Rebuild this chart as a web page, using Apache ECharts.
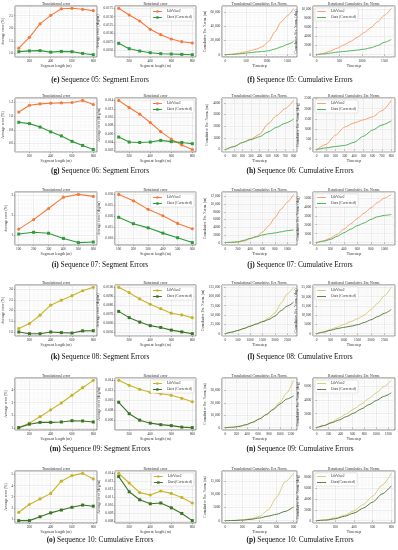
<!DOCTYPE html>
<html><head><meta charset="utf-8">
<script src="https://cdn.jsdelivr.net/npm/echarts@6/dist/echarts.min.js"></script>
<style>html,body{margin:0;padding:0;background:#fff}#c{width:398px;height:550px}</style>
</head><body><div id="c"></div>
<script>
// ---------- DATA ----------
const segLen8 = [100,200,300,400,500,600,700,800];
const segLen6 = [100,200,300,400,500,600];
const seriesNames = ['LibViso2','Ours (Corrected)'];
const seriesNames10 = ['LibViso2','Ours(Corrected)'];

// Sequence 05
const s05TransLib  = [1.21,1.64,2.17,2.51,2.77,2.79,2.75,2.70];
const s05TransOurs = [1.07,1.10,1.11,1.05,1.08,1.07,1.00,0.95];
const s05RotLib    = [0.0175,0.0155,0.0137,0.0112,0.0096,0.0083,0.0075,0.0071];
const s05RotOurs   = [0.0070,0.0054,0.0047,0.0042,0.0039,0.0038,0.0037,0.0036];
const t05          = [0,150,300,450,600,750,900,1050,1200,1350,1500,1650];
const c05TransLib  = [0,500,1800,3600,5500,8000,11500,19000,32500,46500,55000,65500];
const c05TransOurs = [0,400,1000,1800,2800,3800,4500,5500,8000,11000,14500,18500];
const c05RotLib    = [0,300,800,1400,2100,2900,3800,4800,5900,7200,8600,10100];
const c05RotOurs   = [0,150,350,550,700,850,1000,1200,1500,2000,2700,3300];

// Sequence 06
const s06TransLib  = [1.06,1.16,1.18,1.19,1.195,1.20,1.23,1.17];
const s06TransOurs = [0.91,0.89,0.84,0.77,0.71,0.63,0.57,0.51];
const s06RotLib    = [0.0140,0.0123,0.0107,0.0087,0.0065,0.0047,0.0033,0.0022];
const s06RotOurs   = [0.0052,0.0040,0.0039,0.0040,0.0044,0.0041,0.0039,0.0036];
const t06          = [0,100,200,300,400,500,600,700,800];
const c06TransLib  = [0,250,600,900,1300,2200,2900,3500,4200];
const c06TransOurs = [0,250,600,850,1100,1500,1900,2250,2600];
const c06RotLib    = [0,250,700,1100,1300,1450,1600,1900,2400];
const c06RotOurs   = [0,80,150,200,350,650,950,1200,1400];

// Sequence 07
const s07TransLib  = [1.30,1.78,2.34,2.91,3.05,2.95];
const s07TransOurs = [1.05,1.14,1.09,0.83,0.62,0.65];
const s07RotLib    = [0.0300,0.0271,0.0232,0.0203,0.0168,0.0144];
const s07RotOurs   = [0.0196,0.0167,0.0148,0.0124,0.0103,0.0081];
const t07          = [0,100,200,300,400,500,600,700,800,900,1000,1100];
const c07TransLib  = [0,60,150,400,1000,1600,2750,4400,6500,8700,10500,12500];
const c07TransOurs = [0,80,200,600,1100,1500,2000,2300,2500,2800,3100,3300];
const c07RotLib    = [0,200,500,900,1500,2100,2700,3300,3900,4500,5000,5400];
const c07RotOurs   = [0,150,350,700,1100,1500,1900,2200,2600,2900,3050,3150];

// Sequence 08
const s08TransLib  = [1.16,1.39,1.78,2.25,2.48,2.69,2.92,3.08];
const s08TransOurs = [1.00,0.92,0.92,1.00,0.97,0.95,1.05,1.06];
const s08RotLib    = [0.0100,0.0094,0.0087,0.0081,0.0076,0.0071,0.0069,0.0066];
const s08RotOurs   = [0.0073,0.0066,0.0061,0.0057,0.0055,0.0052,0.0050,0.0048];
const t08          = [0,250,500,750,1000,1250,1500,1750,2000,2250,2500,2750];
const c08TransLib  = [0,4000,8500,14000,20000,26000,33000,42000,56000,82000,107000,124000];
const c08TransOurs = [0,4000,8500,14000,20000,26000,32000,38000,47000,62000,74000,84000];
const c08RotLib    = [0,1000,2200,3500,5000,6500,8000,10000,13000,16500,20500,25000];
const c08RotOurs   = [0,800,1800,2700,3400,4000,4800,6000,7500,9200,11000,13000];

// Sequence 09
const s09TransLib  = [1.05,1.40,1.90,2.43,2.97,3.57,4.16,4.73];
const s09TransOurs = [1.05,1.32,1.46,1.46,1.49,1.59,1.57,1.49];
const s09RotLib    = [0.0140,0.0130,0.0122,0.0116,0.0113,0.0110,0.0104,0.0097];
const s09RotOurs   = [0.0096,0.0073,0.0060,0.0054,0.0051,0.0049,0.0046,0.0045];
const t09          = [0,125,250,375,500,625,750,875,1000,1125,1250];
const c09TransLib  = [0,300,1000,2300,4300,7000,10500,15000,20500,28000,38000];
const c09TransOurs = [0,300,1000,2300,4300,7000,10500,14500,19000,23000,25500];
const c09RotLib    = [0,300,800,1400,2000,2700,3400,4200,5000,5900,6800];
const c09RotOurs   = [0,300,700,1100,1600,2100,2700,3300,3900,4500,5000];

// Sequence 10
const s10TransLib  = [1.60,2.30,2.80,3.30,4.40,4.90,5.10,4.60];
const s10TransOurs = [0.85,0.85,1.20,1.55,1.80,2.05,2.25,2.15];
const s10RotLib    = [0.0140,0.0128,0.0116,0.0113,0.0118,0.0115,0.0110,0.0103];
const s10RotOurs   = [0.0136,0.0117,0.0107,0.0102,0.0103,0.0097,0.0090,0.0081];
const t10          = [0,100,200,300,400,500,600,700,800];
const c10TransLib  = [0,100,300,700,1600,4000,8800,14700,17900];
const c10TransOurs = [0,50,200,500,1000,1700,2400,3500,5200];
const c10RotLib    = [0,150,500,1000,1800,3000,4500,6500,8700];
const c10RotOurs   = [0,100,350,800,1400,2300,3400,4900,6400];

const captions = [
  ['(e)',' Sequence 05: Segment Errors'],['(f)',' Sequence 05: Cumulative Errors'],
  ['(g)',' Sequence 06: Segment Errors'],['(h)',' Sequence 06: Cumulative Errors'],
  ['(i)',' Sequence 07: Segment Errors'],['(j)',' Sequence 07: Cumulative Errors'],
  ['(k)',' Sequence 08: Segment Errors'],['(l)',' Sequence 08: Cumulative Errors'],
  ['(m)',' Sequence 09: Segment Errors'],['(n)',' Sequence 09: Cumulative Errors'],
  ['(o)',' Sequence 10: Cumulative Errors'],['(p)',' Sequence 10: Cumulative Errors']
];

// ---------- LAYOUT / STYLE ----------
const FONT = 'Liberation Serif';
const cols = [[15,82],[115,81],[222,75],[313,82]];
const rows = [[6,51],[98,54],[192,53],[285,51],[378,52],[471,52]];
const capY = [80,171,265,357,449,540];
const PAL = {
  A:{segLib:'#f7793a',segOurs:'#2e9a3a',cumLib:'#f8a46e',cumOurs:'#54b25a'},
  B:{segLib:'#c6b526',segOurs:'#3a7425',cumLib:'#d8ce7a',cumOurs:'#5b7f45'}
};

function seg(r,pal,tl,to,rl,ro,x,tStep,rStep,tDec,rDec,names){
  const xs = x.length===6?100:200;
  return [
    {r,c:0,kind:'seg',pal,title:'Translational error',xName:'Segment length (m)',yName:'Average error (%)',x,lib:tl,ours:to,xStep:xs,yStep:tStep,dec:tDec,names},
    {r,c:1,kind:'seg',pal,title:'Rotational error',xName:'Segment length (m)',yName:'Average error (deg/m)',x,lib:rl,ours:ro,xStep:xs,yStep:rStep,dec:rDec,legend:true,names}
  ];
}
function cum(r,pal,t,tl,to,rl,ro,xStep,tStep,rStep,names){
  return [
    {r,c:2,kind:'cum',pal,title:'Translational Cumulative Err. Norm.',xName:'Timestep',yName:'Cumulative Err. Norm. (m)',x:t,lib:tl,ours:to,xStep,yStep:tStep,dec:0,names},
    {r,c:3,kind:'cum',pal,title:'Rotational Cumulative Err. Norm.',xName:'Timestep',yName:'Cumulative Err. Norm. (deg)',x:t,lib:rl,ours:ro,xStep,yStep:rStep,dec:0,legend:true,names}
  ];
}
const panels = [].concat(
  seg(0,'A',s05TransLib,s05TransOurs,s05RotLib,s05RotOurs,segLen8,0.5,0.0025,1,4,seriesNames),
  cum(0,'A',t05,c05TransLib,c05TransOurs,c05RotLib,c05RotOurs,500,20000,2000,seriesNames),
  seg(1,'A',s06TransLib,s06TransOurs,s06RotLib,s06RotOurs,segLen8,0.2,0.002,1,3,seriesNames),
  cum(1,'A',t06,c06TransLib,c06TransOurs,c06RotLib,c06RotOurs,100,1000,500,seriesNames),
  seg(2,'A',s07TransLib,s07TransOurs,s07RotLib,s07RotOurs,segLen6,1,0.005,0,3,seriesNames),
  cum(2,'A',t07,c07TransLib,c07TransOurs,c07RotLib,c07RotOurs,200,2000,1000,seriesNames),
  seg(3,'B',s08TransLib,s08TransOurs,s08RotLib,s08RotOurs,segLen8,0.5,0.001,1,4,seriesNames),
  cum(3,'B',t08,c08TransLib,c08TransOurs,c08RotLib,c08RotOurs,500,25000,5000,seriesNames),
  seg(4,'B',s09TransLib,s09TransOurs,s09RotLib,s09RotOurs,segLen8,1,0.002,0,3,seriesNames),
  cum(4,'B',t09,c09TransLib,c09TransOurs,c09RotLib,c09RotOurs,200,10000,2000,seriesNames),
  seg(5,'B',s10TransLib,s10TransOurs,s10RotLib,s10RotOurs,segLen8,1,0.001,0,3,seriesNames10),
  cum(5,'B',t10,c10TransLib,c10TransOurs,c10RotLib,c10RotOurs,200,5000,2000,seriesNames10)
);

function fmt(v,dec){
  if(dec>0) return v.toFixed(dec);
  const r = Math.round(v);
  if(Math.abs(r)>=10000) return r.toLocaleString('en-US');
  return String(r);
}

const TF = 3.5;
const grid=[],xAxis=[],yAxis=[],series=[],legend=[],graphic=[];
const tickFont = {fontFamily:FONT,fontSize:TF,color:'#333'};
panels.forEach((p,i)=>{
  const [gl,gw]=cols[p.c], [gt,gh]=rows[p.r];
  grid.push({left:gl,top:gt,width:gw,height:gh,show:true,backgroundColor:'#fff',borderColor:'#555',borderWidth:0.8,containLabel:false});
  const x0=p.x[0], x1=p.x[p.x.length-1], xs=(x1-x0)*0.05;
  const all=p.lib.concat(p.ours);
  const y0=Math.min(...all), y1=Math.max(...all), ys=(y1-y0)*0.05;
  const col = PAL[p.pal];
  const maxLab = fmt(Math.floor((y1+ys)/p.yStep)*p.yStep,p.dec).length;
  xAxis.push({type:'value',gridIndex:i,min:x0-xs,max:x1+xs,minInterval:p.xStep,maxInterval:p.xStep,
    name:p.xName,nameLocation:'middle',nameGap:6.5,nameTextStyle:{fontFamily:FONT,fontSize:3.9,color:'#333'},
    axisLine:{show:false},axisTick:{show:true,length:1.2,lineStyle:{color:'#666',width:0.5}},
    axisLabel:Object.assign({margin:1.8,showMinLabel:false,showMaxLabel:false,formatter:v=>fmt(v,0)},tickFont),
    splitLine:{show:true,lineStyle:{color:'#dcdcdc',width:0.5}},
    minorTick:{show:false,splitNumber:5},minorSplitLine:{show:true,lineStyle:{color:'#eeeeee',width:0.4}}});
  yAxis.push({type:'value',gridIndex:i,min:y0-ys,max:y1+ys,minInterval:p.yStep,maxInterval:p.yStep,
    name:p.yName,nameLocation:'middle',nameGap:3.5+maxLab*1.7,nameRotate:90,
    nameTextStyle:{fontFamily:FONT,fontSize:3.8,color:'#333'},
    axisLine:{show:false},axisTick:{show:true,length:1.2,lineStyle:{color:'#666',width:0.5}},
    axisLabel:Object.assign({margin:1.8,showMinLabel:false,showMaxLabel:false,formatter:v=>fmt(v,p.dec)},tickFont),
    splitLine:{show:true,lineStyle:{color:'#dcdcdc',width:0.5}},
    minorTick:{show:false,splitNumber:5},minorSplitLine:{show:true,lineStyle:{color:'#eeeeee',width:0.4}}});
  const seg = p.kind==='seg';
  const cL = seg?col.segLib:col.cumLib, cO = seg?col.segOurs:col.cumOurs;
  series.push({type:'line',name:p.names[0],xAxisIndex:i,yAxisIndex:i,data:p.x.map((v,k)=>[v,p.lib[k]]),
    symbol:seg?'circle':'none',symbolSize:3.2,smooth:seg?false:0.25,smoothMonotone:'x',
    lineStyle:{color:cL,width:seg?1.1:1},itemStyle:{color:cL,borderWidth:0},silent:true,animation:false,z:3});
  series.push({type:'line',name:p.names[1],xAxisIndex:i,yAxisIndex:i,data:p.x.map((v,k)=>[v,p.ours[k]]),
    symbol:seg?'rect':'none',symbolSize:3,smooth:seg?false:0.25,smoothMonotone:'x',
    lineStyle:{color:cO,width:seg?1.1:1},itemStyle:{color:cO,borderWidth:0},silent:true,animation:false,z:3});
  if(p.legend){
    const pos = seg?{right:398-(gl+gw)+2,top:gt+2}:{left:gl+2,top:gt+2};
    const it = seg?
      [{name:p.names[0],itemStyle:{color:cL},lineStyle:{color:cL,width:1}},
       {name:p.names[1],itemStyle:{color:cO},lineStyle:{color:cO,width:1}}] :
      [{name:p.names[0],icon:'rect',itemStyle:{color:cL},lineStyle:{color:cL}},
       {name:p.names[1],icon:'rect',itemStyle:{color:cO},lineStyle:{color:cO}}];
    legend.push(Object.assign({orient:'vertical',selectedMode:false,itemWidth:9,itemHeight:seg?3:1,itemGap:2,padding:[1.5,2],
      backgroundColor:'#fff',borderColor:'#ccc',borderWidth:0.5,borderRadius:1,
      textStyle:{fontFamily:FONT,fontSize:3.7,color:'#333'},data:it},pos));
  }
  graphic.push({type:'text',x:gl+gw/2,y:gt-2.4,style:{text:p.title,font:'3.8px '+FONT,fill:'#333',textAlign:'center',textVerticalAlign:'middle'},silent:true});
});
captions.forEach((c,i)=>{
  const r=Math.floor(i/2), cx = i%2===0?100:300;
  graphic.push({type:'text',x:cx,y:capY[r],style:{text:'{b|'+c[0]+'}'+c[1],font:'7.4px '+FONT,fill:'#111',textAlign:'center',textVerticalAlign:'middle',
    rich:{b:{font:'bold 7.4px '+FONT,fill:'#111'}}},silent:true});
});

const chart = echarts.init(document.getElementById('c'),null,{renderer:'canvas'});
chart.setOption({animation:false,backgroundColor:'#fff',grid,xAxis,yAxis,series,legend,graphic});
</script>
</body></html>
